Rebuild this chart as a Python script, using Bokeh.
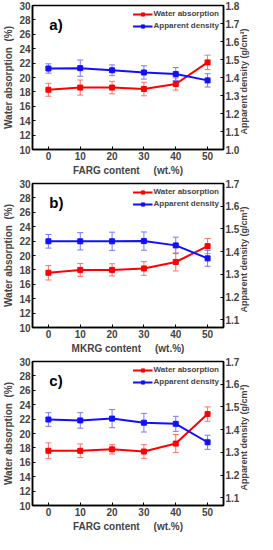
import math
from bokeh.plotting import figure
from bokeh.models import (Range1d, LinearAxis, FixedTicker, Whisker, TeeHead,
                          ColumnDataSource, Legend, LegendItem, Label,
                          PrintfTickFormatter)
from bokeh.layouts import column
from bokeh.embed import file_html
from bokeh.resources import INLINE

contents = [0, 10, 20, 30, 40, 50]
x_ticks = [0, 10, 20, 30, 40, 50]
left_ticks = [10, 12, 14, 16, 18, 20, 22, 24, 26, 28, 30]

a_water = [18.3, 18.6, 18.6, 18.4, 19.1, 22.1]
a_water_err = [0.9, 1.05, 0.87, 0.94, 0.85, 1.0]
a_density = [1.450, 1.452, 1.440, 1.428, 1.419, 1.384]
a_density_err = [0.026, 0.045, 0.030, 0.037, 0.036, 0.037]

b_water = [17.6, 18.0, 18.0, 18.2, 19.1, 21.3]
b_water_err = [1.0, 0.9, 0.85, 0.95, 1.25, 1.05]
b_density = [1.446, 1.446, 1.446, 1.447, 1.428, 1.371]
b_density_err = [0.030, 0.038, 0.040, 0.040, 0.036, 0.035]

c_water = [17.6, 17.6, 17.8, 17.5, 18.6, 22.7]
c_water_err = [1.1, 0.95, 0.65, 0.95, 1.25, 1.0]
c_density = [1.445, 1.441, 1.449, 1.431, 1.426, 1.345]
c_density_err = [0.030, 0.034, 0.040, 0.041, 0.033, 0.031]

a_right_ticks = [1.0, 1.1, 1.2, 1.3, 1.4, 1.5, 1.6, 1.7, 1.8]
bc_right_ticks = [1.1, 1.2, 1.3, 1.4, 1.5, 1.6, 1.7]

FONT = "Liberation Sans"
RED = "#ff0000"
BLUE = "#1010ff"
NB = "\u00a0"
RTITLE = NB * 6 + "Apparent density (g/cm\u00b3)"


def style_axis(ax, ticks):
    ax.ticker = FixedTicker(ticks=ticks)
    ax.major_tick_in = 3
    ax.major_tick_out = 0
    ax.minor_tick_line_color = None
    ax.axis_line_color = "black"
    ax.axis_line_width = 1.5
    ax.major_tick_line_width = 1
    ax.major_label_text_font = FONT
    ax.major_label_text_font_style = "bold"
    ax.major_label_text_font_size = "10px"
    ax.major_label_standoff = 2
    ax.axis_label_text_font = FONT
    ax.axis_label_text_font_style = "bold"
    ax.axis_label_text_font_size = "10px"
    ax.axis_label_standoff = 2


def panel(letter, xlabel, water, water_err, dens, dens_err, rrange, rticks):
    p = figure(width=257, height=178, x_range=Range1d(-5, 55),
               y_range=Range1d(10, 30), output_backend="svg",
               toolbar_location=None, min_border_left=22,
               min_border_right=30, min_border_top=5, min_border_bottom=22)
    p.extra_y_ranges = {"right": Range1d(*rrange)}
    p.grid.visible = False
    p.outline_line_color = "black"
    p.outline_line_width = 1.5
    p.background_fill_color = "white"

    style_axis(p.xaxis[0], x_ticks)
    p.xaxis[0].axis_label = xlabel
    style_axis(p.yaxis[0], left_ticks)
    p.yaxis[0].axis_label = "Water absorption" + NB + NB + "(%)"

    rax = LinearAxis(y_range_name="right")
    style_axis(rax, rticks)
    rax.formatter = PrintfTickFormatter(format="%.1f")
    rax.axis_label = RTITLE
    rax.axis_label_text_font_size = "9px"
    rax.axis_label_orientation = math.pi / 2
    rax.axis_label_align = "start"
    p.add_layout(rax, "right")

    ws = ColumnDataSource(dict(
        x=contents, y=water,
        lo=[v - e for v, e in zip(water, water_err)],
        hi=[v + e for v, e in zip(water, water_err)]))
    ds = ColumnDataSource(dict(
        x=contents, y=dens,
        lo=[v - e for v, e in zip(dens, dens_err)],
        hi=[v + e for v, e in zip(dens, dens_err)]))

    wcol = "#ff7070"
    bcol = "#7878ff"
    p.add_layout(Whisker(source=ws, base="x", lower="lo", upper="hi",
                         line_color=wcol, line_width=1,
                         lower_head=TeeHead(size=6, line_color=wcol, line_width=1),
                         upper_head=TeeHead(size=6, line_color=wcol, line_width=1)))
    p.add_layout(Whisker(source=ds, base="x", lower="lo", upper="hi",
                         y_range_name="right",
                         line_color=bcol, line_width=1,
                         lower_head=TeeHead(size=6, line_color=bcol, line_width=1),
                         upper_head=TeeHead(size=6, line_color=bcol, line_width=1)))

    wl = p.line("x", "y", source=ws, line_color=RED, line_width=2)
    wm = p.scatter("x", "y", source=ws, marker="square", size=5,
                   fill_color=RED, line_color=RED)
    dl = p.line("x", "y", source=ds, line_color=BLUE, line_width=2,
                y_range_name="right")
    dm = p.scatter("x", "y", source=ds, marker="square", size=5,
                   fill_color=BLUE, line_color=BLUE, y_range_name="right")

    leg = Legend(items=[LegendItem(label="Water absorption", renderers=[wl, wm]),
                        LegendItem(label="Apparent density", renderers=[dl, dm])],
                 location="top_right")
    leg.background_fill_alpha = 0
    leg.border_line_color = None
    leg.label_text_font = FONT
    leg.label_text_font_style = "bold"
    leg.label_text_font_size = "8px"
    leg.label_height = 8
    leg.glyph_height = 8
    leg.glyph_width = 20
    leg.spacing = 3
    leg.padding = 1
    leg.margin = 4
    leg.label_standoff = 1
    p.add_layout(leg)

    p.add_layout(Label(x=0.3, y=27.4, text=letter, text_font=FONT,
                       text_font_style="bold", text_font_size="15px",
                       text_baseline="middle", text_color="black"))
    return p


pa = panel("a)", "FARG content" + NB * 5 + "(wt.%)", a_water, a_water_err,
           a_density, a_density_err, (1.0, 1.8), a_right_ticks)
pb = panel("b)", "MKRG content" + NB * 5 + "(wt.%)", b_water, b_water_err,
           b_density, b_density_err, (1.067, 1.7), bc_right_ticks)
pc = panel("c)", "FARG content" + NB * 5 + "(wt.%)", c_water, c_water_err,
           c_density, c_density_err, (1.067, 1.7), bc_right_ticks)

layout = column(pa, pb, pc, spacing=0)
open("out.html", "w").write(file_html(layout, INLINE))
